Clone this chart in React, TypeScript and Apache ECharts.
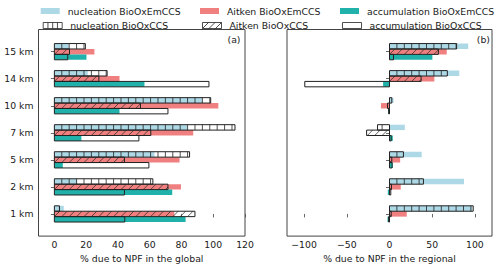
import React, { useEffect, useRef } from "react";
import * as echarts from "echarts";

// categories bottom -> top
const categories = ["1 km", "2 km", "5 km", "7 km", "10 km", "14 km", "15 km"];

// global panel (a)
const nucEmGlobal = [5.9, 14.3, 63, 83.6, 93, 21, 9];
const nucCcsGlobal = [3.2, 62, 85.1, 113.7, 98.4, 33.2, 19.5];
const aitEmGlobal = [75.5, 79.7, 78.8, 87.4, 103.2, 41, 25.2];
const aitCcsGlobal = [88.5, 71.5, 44.1, 60.7, 54.2, 28, 9.5];
const accEmGlobal = [82.6, 74.2, 5.3, 17, 41, 56.7, 20.2];
const accCcsGlobal = [44.3, 44.1, 59.5, 53.2, 71.5, 97.3, 8.4];

// regional panel (b)
const nucEmRegional = [97, 87.2, 37.7, 17.9, 4.7, 81.7, 92.2];
const nucCcsRegional = [98, 39.7, 16.3, -14, 2.7, 67.7, 78.6];
const aitEmRegional = [20.2, 13.2, 12.5, 0.5, -10, 52.5, 67];
const aitCcsRegional = [2, 2.3, 2.7, -26.8, -2.3, 37, 57.2];
const accEmRegional = [-2.3, -2, 3.9, 3.9, -1.5, -7.5, 50.2];
const accCcsRegional = [-1, 1.5, 3, 2, -1, -99.2, 4.7];

const globalTicks = [0, 20, 40, 60, 80, 100, 120];
const regionalTicks = [-100, -50, 0, 50, 100];

const NAMES = {
  nucEm: "nucleation BioOxEmCCS",
  nucCcs: "nucleation BioOxCCS",
  aitEm: "Aitken BioOxEmCCS",
  aitCcs: "Aitken BioOxCCS",
  accEm: "accumulation BioOxEmCCS",
  accCcs: "accumulation BioOxCCS",
};

const BLUE = "#add8e6";
const PINK = "#f08080";
const TEAL = "#20b2aa";
const EDGE = "#222";
const FONT = "DejaVu Sans";
const FS = 9.3;
const BAR_H = 0.2;
const HATCH = 7.4;

type Hatch = "none" | "fill" | "vert" | "diag";

function makeRender(offset: number, kind: Hatch, color: string) {
  return (params: any, api: any) => {
    const v = api.value(0);
    const yi = api.value(1);
    const yc = yi + offset;
    const p0 = api.coord([0, yc + BAR_H / 2]);
    const p1 = api.coord([v, yc - BAR_H / 2]);
    const x = Math.min(p0[0], p1[0]);
    const xe = Math.max(p0[0], p1[0]);
    const w = xe - x;
    const y = p0[1];
    const h = p1[1] - p0[1];
    if (kind === "fill") {
      return { type: "rect", shape: { x, y, width: w, height: h }, style: { fill: color } };
    }
    const children: any[] = [];
    const x0 = p0[0];
    if (kind === "vert") {
      const kStart = Math.ceil((x - x0) / HATCH + 1e-6);
      const kEnd = Math.floor((xe - x0) / HATCH - 1e-6);
      for (let k = kStart; k <= kEnd; k++) {
        const lx = x0 + k * HATCH;
        children.push({
          type: "line",
          shape: { x1: lx, y1: y, x2: lx, y2: y + h },
          style: { stroke: EDGE, lineWidth: 0.8 },
        });
      }
    } else if (kind === "diag") {
      const kStart = Math.floor((x - h - x0) / HATCH) - 1;
      const kEnd = Math.ceil((xe - x0) / HATCH) + 1;
      for (let k = kStart; k <= kEnd; k++) {
        const sx = x0 + k * HATCH; // at bottom
        const tLo = Math.max(0, (x - sx) / h);
        const tHi = Math.min(1, (xe - sx) / h);
        if (tHi - tLo > 0.02) {
          children.push({
            type: "line",
            shape: {
              x1: sx + tLo * h,
              y1: y + h - tLo * h,
              x2: sx + tHi * h,
              y2: y + h - tHi * h,
            },
            style: { stroke: EDGE, lineWidth: 0.7 },
          });
        }
      }
    }
    children.push({
      type: "rect",
      shape: { x, y, width: w, height: h },
      style: { fill: "none", stroke: EDGE, lineWidth: 1 },
    });
    return { type: "group", children };
  };
}

function toData(vals: number[]) {
  return vals.map((v, i) => [v, i]);
}

function seriesFor(gridIdx: number, sets: number[][]) {
  const defs: [string, number, Hatch, string][] = [
    [NAMES.nucEm, 0.2, "fill", BLUE],
    [NAMES.aitEm, 0, "fill", PINK],
    [NAMES.accEm, -0.2, "fill", TEAL],
    [NAMES.nucCcs, 0.2, "vert", "none"],
    [NAMES.aitCcs, 0, "diag", "none"],
    [NAMES.accCcs, -0.2, "none", "none"],
  ];
  return defs.map((d, i) => ({
    type: "custom",
    name: d[0],
    xAxisIndex: gridIdx,
    yAxisIndex: gridIdx,
    coordinateSystem: "cartesian2d",
    z: i < 3 ? 2 : 3,
    encode: { x: 0, y: 1 },
    itemStyle: { color: d[3] === "none" ? "#ffffff" : d[3] },
    renderItem: makeRender(d[1], d[2], d[3]),
    data: toData(sets[i]),
  }));
}

const ICON_RECT = "path://M0,0H19V6H0Z";
const ICON_VERT = "path://M0,0H19V6H0ZM4.75,0V6M9.5,0V6M14.25,0V6";
const ICON_DIAG = "path://M0,0H19V6H0ZM0,6L6,0M6.5,6L12.5,0M13,6L19,0";

function legendFor(name: string, left: number, top: number, icon: string, filled: string | null) {
  return {
    left,
    top,
    padding: 0,
    selectedMode: false,
    itemWidth: 19,
    itemHeight: 6,
    textStyle: { fontSize: FS, color: "#1a1a1a", fontFamily: FONT, padding: [0, 0, 0, 3] },
    data: [
      filled
        ? { name, icon: "rect", itemStyle: { color: filled, borderWidth: 0 } }
        : { name, icon, itemStyle: { color: "none", borderColor: EDGE, borderWidth: 0.8 } },
    ],
  };
}

export default function App() {
  const ref = useRef<HTMLDivElement>(null);
  useEffect(() => {
    document.body.style.margin = "0";
    const chart = echarts.init(ref.current as HTMLDivElement, undefined, { renderer: "svg" });
    const yAxisBase = (showLabels: boolean, gi: number) => ({
      type: "value",
      gridIndex: gi,
      min: -0.82,
      max: 6.82,
      axisLine: { show: false },
      splitLine: { show: false },
      axisTick: {
        show: true,
        length: 3.5,
        customValues: categories.map((_, i) => i),
        lineStyle: { color: "#444", width: 0.8 },
      },
      axisLabel: {
        show: showLabels,
        customValues: categories.map((_, i) => i),
        formatter: (v: number) => categories[Math.round(v)] ?? "",
        fontSize: FS,
        color: "#1a1a1a",
        fontFamily: FONT,
        margin: 5,
      },
    });
    const xAxisBase = (gi: number, min: number, max: number, ticks: number[], name: string) => ({
      type: "value",
      gridIndex: gi,
      min,
      max,
      name,
      nameLocation: "middle",
      nameGap: 16,
      nameTextStyle: { fontSize: FS, color: "#1a1a1a", fontFamily: FONT },
      axisLine: { show: false },
      splitLine: { show: false },
      axisTick: {
        show: true,
        length: 3.5,
        customValues: ticks,
        lineStyle: { color: "#444", width: 0.8 },
      },
      axisLabel: {
        customValues: ticks,
        formatter: (v: number) => (v < 0 ? "\u2212" + Math.abs(v) : String(v)),
        fontSize: FS,
        color: "#1a1a1a",
        fontFamily: FONT,
        margin: 4,
      },
    });
    const option: any = {
      animation: false,
      textStyle: { fontFamily: FONT },
      grid: [
        { left: 38.5, right: 255, top: 29.5, bottom: 30, show: true, borderColor: "#444", borderWidth: 1 },
        { left: 287, right: 8, top: 29.5, bottom: 30, show: true, borderColor: "#444", borderWidth: 1 },
      ],
      xAxis: [
        xAxisBase(0, -10, 120, globalTicks, "% due to NPF in the global"),
        xAxisBase(1, -120, 120, regionalTicks, "% due to NPF in the regional"),
      ],
      yAxis: [yAxisBase(true, 0), yAxisBase(false, 1)],
      legend: [
        legendFor(NAMES.nucEm, 40.7, 6.5, ICON_RECT, BLUE),
        legendFor(NAMES.nucCcs, 40.7, 20, ICON_VERT, null),
        legendFor(NAMES.aitEm, 200, 6.5, ICON_RECT, PINK),
        legendFor(NAMES.aitCcs, 200, 20, ICON_DIAG, null),
        legendFor(NAMES.accEm, 340, 6.5, ICON_RECT, TEAL),
        legendFor(NAMES.accCcs, 340, 20, ICON_RECT, null),
      ],
      graphic: [
        {
          type: "text",
          x: 240.5,
          y: 39,
          style: { text: "(a)", align: "right", textAlign: "right", verticalAlign: "middle", textVerticalAlign: "middle", fontSize: FS, fontFamily: FONT, fill: "#1a1a1a" },
        },
        {
          type: "text",
          x: 490,
          y: 39,
          style: { text: "(b)", align: "right", textAlign: "right", verticalAlign: "middle", textVerticalAlign: "middle", fontSize: FS, fontFamily: FONT, fill: "#1a1a1a" },
        },
      ],
      series: [
        ...seriesFor(0, [nucEmGlobal, aitEmGlobal, accEmGlobal, nucCcsGlobal, aitCcsGlobal, accCcsGlobal]),
        ...seriesFor(1, [nucEmRegional, aitEmRegional, accEmRegional, nucCcsRegional, aitCcsRegional, accCcsRegional]),
      ],
    };
    chart.setOption(option);
    return () => chart.dispose();
  }, []);
  return <div ref={ref} style={{ width: 500, height: 268 }} />;
}
